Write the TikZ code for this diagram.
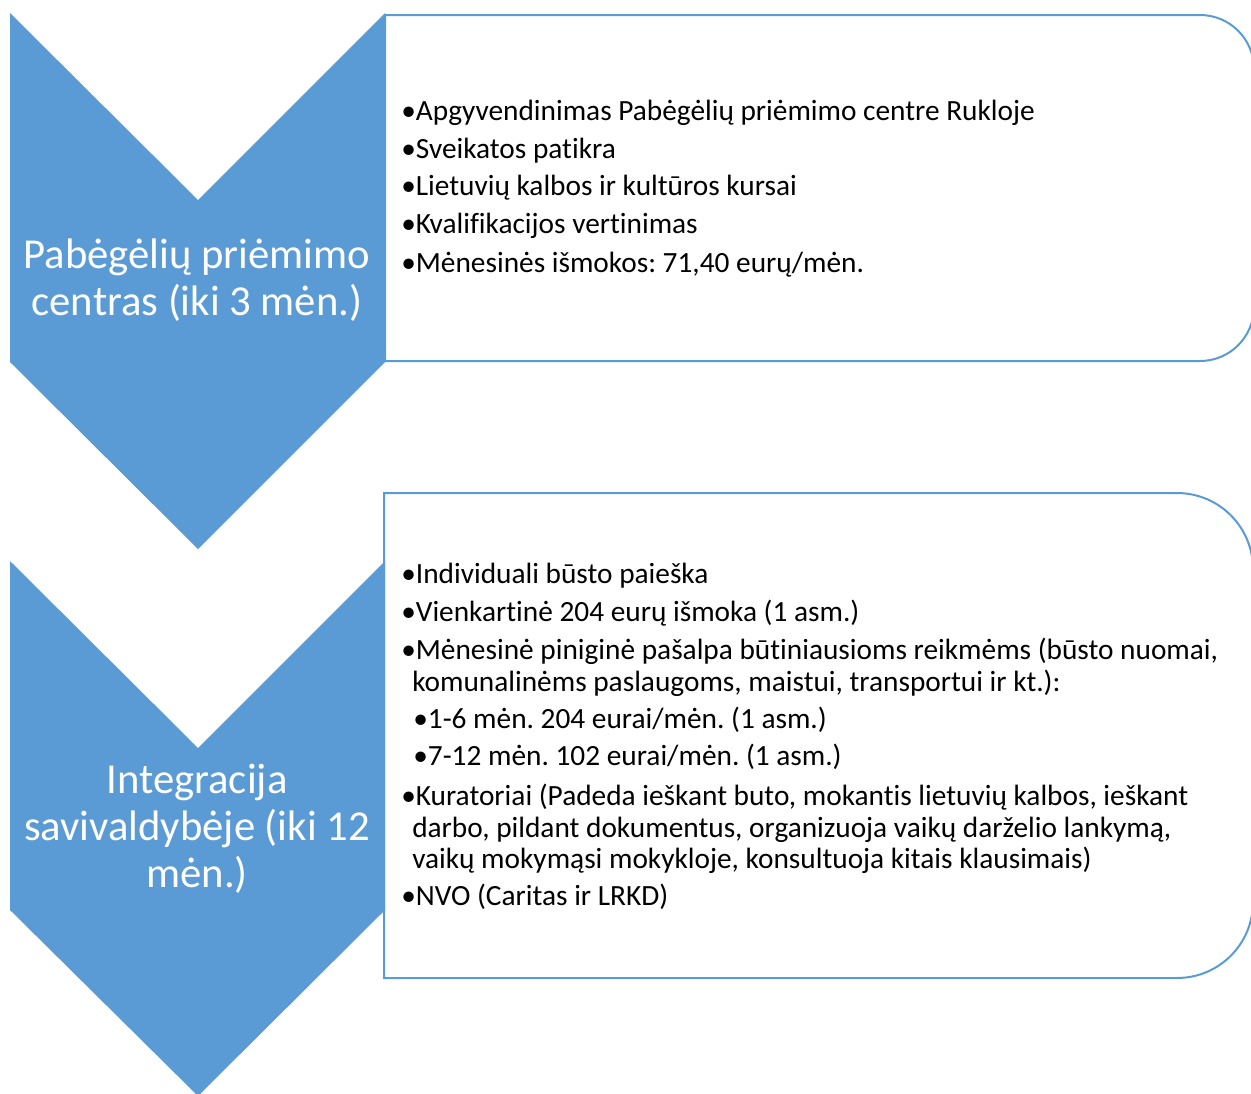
\documentclass[tikz,border=0pt]{standalone}
\usepackage{fontspec}
\setmainfont[Ligatures={NoCommon}]{Carlito}
\definecolor{flowblue}{HTML}{5B9BD5}
\newcommand{\stagefont}{\fontsize{32}{35}\selectfont}
\newcommand{\itemfont}{\fontsize{22}{24}\selectfont}
\frenchspacing

\begin{document}
\begin{tikzpicture}[x=0.75pt,y=-0.75pt]
\tikzstyle{every node}=[inner sep=0pt]
\tikzstyle{chevron}=[fill=flowblue]
\tikzstyle{panel}=[draw=flowblue, line width=1.5pt]
\tikzstyle{stage}=[anchor=base, text=white, font=\stagefont]
\tikzstyle{item}=[anchor=base west, font=\itemfont]

\useasboundingbox (0,0) rectangle (1251,1093);
\clip (0,0) rectangle (1251,1093);

% first stage
\fill[chevron] (10,13) -- (198,200) -- (385,13) -- (385,362) -- (198,549) -- (10,362) -- cycle;
\draw[panel] (385,15) -- (1200,15) arc (-90:0:54) -- (1254,307) arc (0:90:54) -- (385,361) -- cycle;

\node[stage] (s1a) at (197,268) {Pabėgėlių priėmimo};
\node[stage] (s1b) at (197,315) {centras (iki 3 mėn.)};

\node[item] (i1) at (401,120) {•Apgyvendinimas Pabėgėlių priėmimo centre Rukloje};
\node[item] (i2) at (401,158) {•Sveikatos patikra};
\node[item] (i3) at (401,195) {•Lietuvių kalbos ir kultūros kursai};
\node[item] (i4) at (401,233) {•Kvalifikacijos vertinimas};
\node[item] (i5) at (401,272) {•Mėnesinės išmokos: 71,40 eurų/mėn.};

% second stage
\fill[chevron] (10,561) -- (198,748) -- (385,561) -- (385,910) -- (198,1096) -- (10,910) -- cycle;
\draw[panel] (384,493) -- (1177,493) arc (-90:0:76) -- (1253,902) arc (0:90:76) -- (384,978) -- cycle;

\node[stage] (s2a) at (197,793) {Integracija};
\node[stage] (s2b) at (197,840) {savivaldybėje (iki 12};
\node[stage] (s2c) at (197,887) {mėn.)};

\node[item] (j1) at (401,583) {•Individuali būsto paieška};
\node[item] (j2) at (401,621) {•Vienkartinė 204 eurų išmoka (1 asm.)};
\node[item] (j3) at (401,659) {•Mėnesinė piniginė pašalpa būtiniausioms reikmėms (būsto nuomai,};
\node[item] (j3b) at (412,691) {komunalinėms paslaugoms, maistui, transportui ir kt.):};
\node[item] (j4) at (413,728) {•1-6 mėn. 204 eurai/mėn. (1 asm.)};
\node[item] (j5) at (413,765) {•7-12 mėn. 102 eurai/mėn. (1 asm.)};
\node[item] (j6) at (401,805) {•Kuratoriai (Padeda ieškant buto, mokantis lietuvių kalbos, ieškant};
\node[item] (j6b) at (412,837) {darbo, pildant dokumentus, organizuoja vaikų darželio lankymą,};
\node[item] (j6c) at (412,868) {vaikų mokymąsi mokykloje, konsultuoja kitais klausimais)};
\node[item] (j7) at (401,905) {•NVO (Caritas ir LRKD)};
\end{tikzpicture}
\end{document}
